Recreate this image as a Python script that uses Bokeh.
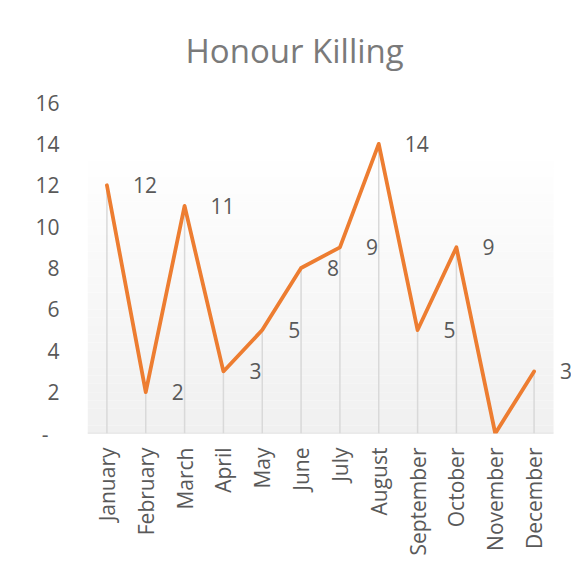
import math
from bokeh.plotting import figure
from bokeh.models import ColumnDataSource, FixedTicker, BoxAnnotation, LabelSet, Range1d
from bokeh.core.properties import value
from bokeh.embed import file_html
from bokeh.resources import INLINE

months = ["January", "February", "March", "April", "May", "June", "July",
          "August", "September", "October", "November", "December"]
killings = [12, 2, 11, 3, 5, 8, 9, 14, 5, 9, 0, 3]
y_ticks = [0, 2, 4, 6, 8, 10, 12, 14, 16]
y_tick_labels = ["-\u00a0\u00a0", "2", "4", "6", "8", "10", "12", "14", "16"]
title_text = "Honour Killing"

FONT = "Open Sans"
GRAY = "#595959"

n = len(months)
idx = list(range(n))
src = ColumnDataSource(dict(
    x=idx,
    val=killings,
    base=[0] * n,
    lab=["-" if v == 0 else str(v) for v in killings],
))

# layout (pixels)
W, H = 571, 567
LEFT, TOP, BOTTOM = 87, 102, 134
AXIS_RIGHT = 553  # right end of the category axis
frame_w = W - LEFT
band = (AXIS_RIGHT - LEFT) / n
x_end = -0.5 + frame_w / band

p = figure(width=W, height=H, x_range=Range1d(-0.5, x_end), y_range=(0, 16),
           output_backend="svg", toolbar_location=None,
           min_border_left=LEFT, min_border_right=0,
           min_border_top=TOP, min_border_bottom=BOTTOM)
p.background_fill_color = "white"
p.border_fill_color = "white"
p.outline_line_color = None

# gradient plot-area background
n_bands = 40
for i in range(n_bands):
    lo = 16 * i / n_bands
    hi = 16 * (i + 1) / n_bands
    t = (i + 0.5) / n_bands  # 0 bottom, 1 top
    f = min(1.0, t / 0.86)
    c = int(round(240 + (255 - 240) * f))
    p.add_layout(BoxAnnotation(bottom=lo, top=hi, left=-0.5, right=n - 0.5,
                               fill_color=f"#{c:02x}{c:02x}{c:02x}",
                               fill_alpha=1, line_color=None, level="underlay"))

p.title.text = title_text
p.title.text_font = FONT
p.title.text_font_size = "33px"
p.title.text_font_style = "normal"
p.title.text_color = "#7a7a7a"
p.title.align = "left"
p.title.vertical_align = "top"
p.title.standoff = 55
p.title.offset = 98

p.xgrid.visible = False
p.ygrid.visible = False

p.yaxis.ticker = FixedTicker(ticks=y_ticks)
p.yaxis.major_label_overrides = {t: l for t, l in zip(y_ticks, y_tick_labels)}
p.yaxis.axis_line_color = None
p.yaxis.major_tick_line_color = None
p.yaxis.minor_tick_line_color = None
p.yaxis.major_tick_out = 0
p.yaxis.major_label_standoff = 28
p.yaxis.major_label_text_font = FONT
p.yaxis.major_label_text_font_size = "21px"
p.yaxis.major_label_text_color = GRAY

p.xaxis.ticker = FixedTicker(ticks=idx)
p.xaxis.major_label_overrides = {i: m for i, m in zip(idx, months)}
p.xaxis.axis_line_color = None
p.xaxis.major_tick_line_color = None
p.xaxis.minor_tick_line_color = None
p.xaxis.major_tick_out = 0
p.xaxis.major_label_orientation = math.pi / 2
p.xaxis.major_label_standoff = 14
p.xaxis.major_label_text_font = FONT
p.xaxis.major_label_text_font_size = "21px"
p.xaxis.major_label_text_color = GRAY

# category axis line
p.segment(x0=[-0.5], y0=[0], x1=[n - 0.5], y1=[0], line_color="#d9d9d9", line_width=1.5)

# drop lines
p.segment(x0="x", y0="base", x1="x", y1="val", source=src,
          line_color="#d9d9d9", line_width=1.5)

p.line(x="x", y="val", source=src, line_color="#ED7D31", line_width=3.8,
       line_join="round", line_cap="round")

labels = LabelSet(x="x", y="val", text="lab", source=src, x_offset=26,
                  text_align="left", text_baseline="middle",
                  text_font=value(FONT), text_font_size=value("21px"), text_color=GRAY)
p.add_layout(labels)

open("out.html", "w").write(file_html(p, INLINE))
